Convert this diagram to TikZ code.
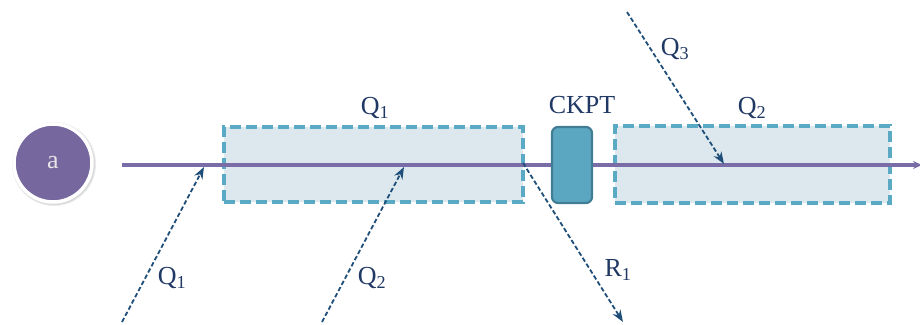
\documentclass[tikz,border=0pt]{standalone}
\usepackage{fontspec}
\setmainfont{Liberation Serif}
\usetikzlibrary{arrows.meta}

\definecolor{ckptlila}{HTML}{76679E}
\definecolor{tlpurple}{HTML}{7A6CA6}
\definecolor{stageline}{HTML}{5AAAC6}
\definecolor{stagefill}{HTML}{DCE8EE}
\definecolor{ckptfill}{HTML}{5BA7C1}
\definecolor{ckptline}{HTML}{417E96}
\definecolor{flowblue}{HTML}{1F4E79}
\definecolor{lbltext}{HTML}{203864}

\tikzset{
  stage/.style={rectangle, draw=stageline, fill=stagefill, line width=3.5pt,
                dash pattern=on 11pt off 5pt, inner sep=0pt},
  timeline/.style={-{Stealth[length=9pt,width=8pt]}, draw=tlpurple, line width=3.5pt},
  flow/.style={-{Stealth[length=12pt,width=9pt]}, draw=flowblue, line width=1.8pt,
               dash pattern=on 4.5pt off 2.5pt},
  lbl/.style={text=lbltext, font=\fontsize{26}{28}\selectfont, inner sep=0pt},
}

\begin{document}
\begin{tikzpicture}[x=1pt,y=1pt]
            \useasboundingbox (0,0) rectangle (920,324);
            % stages
            \node[stage, minimum width=299pt, minimum height=75pt] (q1box) at (373.5,159.5) {};
            \node[stage, minimum width=275pt, minimum height=77pt] (q2box) at (752.5,159.5) {};
            % source and timeline
            \fill[black, opacity=0.08] (54,160) circle (42pt);
            \fill[black, opacity=0.08] (54,160) circle (41pt);
            \node[circle, fill=ckptlila, draw=white, line width=3.5pt, minimum size=78pt,
                  text=white!90!black, font=\fontsize{26}{28}\selectfont] (a) at (53,161) {a};
            \coordinate (tlstart) at (122,159);
            \coordinate (tlend) at (922,159);
            \draw[timeline] (tlstart) -- (tlend);
            % checkpoint
            \node[rectangle, rounded corners=6pt, fill=ckptfill, draw=ckptline, line width=2.2pt,
                  minimum width=40pt, minimum height=76pt] (ckpt) at (572,159) {};
            \node[lbl] (ckptlbl) at (582,219) {CKPT};
            \node[lbl] (q1top) at (375,216) {Q\textsubscript{1}};
            \node[lbl] (q2top) at (752,216) {Q\textsubscript{2}};
            % incoming and outgoing flows
            \coordinate (q1in) at (122,2);
            \coordinate (q1hit) at (204,157);
            \coordinate (q2in) at (322,2);
            \coordinate (q2hit) at (404,157);
            \coordinate (r1out) at (523,161);
            \coordinate (r1end) at (623,2);
            \coordinate (q3in) at (627,312);
            \coordinate (q3hit) at (724,160);
            \draw[flow] (q1in) -- (q1hit);
            \draw[flow] (q2in) -- (q2hit);
            \draw[flow] (r1out) -- (r1end);
            \draw[flow] (q3in) -- (q3hit);
            \node[lbl] (q1lbl) at (172,46) {Q\textsubscript{1}};
            \node[lbl] (q2lbl) at (372,46) {Q\textsubscript{2}};
            \node[lbl] (r1lbl) at (618,54) {R\textsubscript{1}};
            \node[lbl] (q3lbl) at (675,275) {Q\textsubscript{3}};
        \end{tikzpicture}
\end{document}
